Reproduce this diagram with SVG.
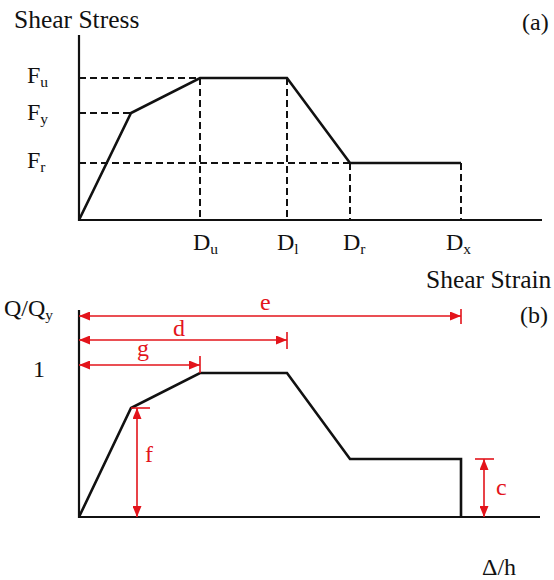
<svg xmlns="http://www.w3.org/2000/svg" width="554" height="580" viewBox="0 0 554 580">
<style>
text{font-family:"Liberation Serif","Times New Roman",serif;font-size:24px;fill:#111}
.sub{font-size:15.5px}
.big{font-size:25.5px}
.red{fill:#e3141b}
.ax{stroke:#111;stroke-width:2.2;fill:none}
.cv{stroke:#111;stroke-width:2.6;fill:none;stroke-linejoin:miter}
.dash{stroke:#111;stroke-width:2;fill:none;stroke-dasharray:7 4}
.ra{stroke:#e3141b;stroke-width:1.6;fill:none;marker-start:url(#ah);marker-end:url(#ah)}
.rt{stroke:#e3141b;stroke-width:1.6;fill:none}
</style>
<defs>
<marker id="ah" markerUnits="userSpaceOnUse" markerWidth="11" markerHeight="9" refX="11" refY="4.5" orient="auto-start-reverse">
<path d="M0,0 L11,4.5 L0,9 z" fill="#e3141b"/>
</marker>
</defs>
<g id="panel-a">
<g id="axes-a">
<path class="ax" d="M79,35 V220 H542"/>
</g>
<g id="dashes-a">
<path class="dash" d="M79,78 H200 M79,113 H131 M79,163 H350 M200,78 V220 M287,78 V220 M350,163 V220 M461,163 V220"/>
</g>
<g id="curve-a">
<path class="cv" d="M79,220 L131,113 L200,78 L287,78 L350,163 L461,163"/>
</g>
<g id="labels-a">
<text class="big" x="14" y="28">Shear Stress</text>
<text x="522" y="30">(a)</text>
<text x="27" y="83">F<tspan class="sub" dy="4">u</tspan></text>
<text x="27" y="120">F<tspan class="sub" dy="4">y</tspan></text>
<text x="27" y="168">F<tspan class="sub" dy="4">r</tspan></text>
<text x="193" y="250">D<tspan class="sub" dy="4">u</tspan></text>
<text x="277" y="250">D<tspan class="sub" dy="4">l</tspan></text>
<text x="343" y="250">D<tspan class="sub" dy="4">r</tspan></text>
<text x="446" y="250">D<tspan class="sub" dy="4">x</tspan></text>
<text class="big" x="426" y="288">Shear Strain</text>
</g>
</g>
<g id="panel-b">
<g id="axes-b">
<path class="ax" d="M79,310 V517 H540"/>
</g>
<g id="curve-b">
<path class="cv" d="M79,517 L131,408 L200,373 L287,373 L350,459 L461,459 L461,517"/>
</g>
<g id="connectors">
<path class="ra" d="M79,316 H461"/>
<path class="rt" d="M461,309 V324"/>
<path class="ra" d="M79,340 H287"/>
<path class="rt" d="M287,332 V349"/>
<path class="ra" d="M79,365 H200"/>
<path class="rt" d="M200,356 V373"/>
<path class="ra" d="M137,408 V517"/>
<path class="rt" d="M131,408 H150"/>
<path class="ra" d="M484,459 V517"/>
<path class="rt" d="M475,459 H494"/>
</g>
<g id="labels-b">
<text x="4" y="316">Q/Q<tspan class="sub" dy="4">y</tspan></text>
<text x="33" y="377">1</text>
<text x="520" y="323">(b)</text>
<text class="red" x="260" y="310">e</text>
<text class="red" x="173" y="336">d</text>
<text class="red" x="137" y="356">g</text>
<text class="red" x="145" y="462">f</text>
<text class="red" x="496" y="495">c</text>
<text x="482" y="575">Δ/h</text>
</g>
</g>
</svg>
